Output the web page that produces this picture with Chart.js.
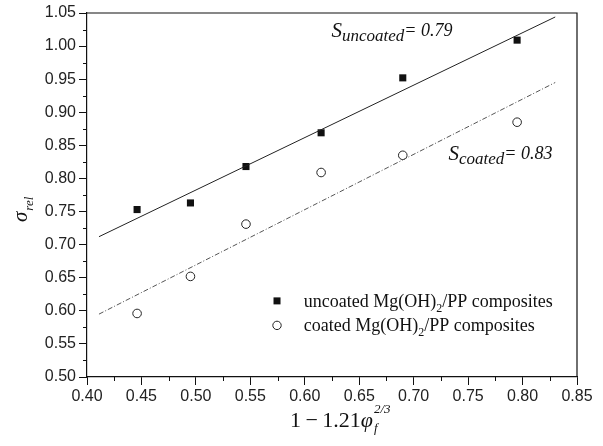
<!DOCTYPE html>
<html><head><meta charset="utf-8">
<script src="https://cdn.jsdelivr.net/npm/chart.js@4/dist/chart.umd.min.js"></script>
<style>html,body{margin:0;padding:0;background:#fff}#wrap{width:603px;height:446px}</style>
</head><body><div id="wrap"><canvas id="c" width="603" height="446"></canvas></div>
<script>
// ---- data ----
const xValues = [0.446, 0.495, 0.546, 0.615, 0.690, 0.795];
const yUncoated = [0.753, 0.763, 0.818, 0.869, 0.952, 1.009];
const yCoated = [0.596, 0.652, 0.731, 0.809, 0.835, 0.885];
const fitX = [0.411, 0.830];
const fitUncoated = [0.712, 1.044];
const fitCoated = [0.595, 0.945];
const xTicks = [0.40, 0.45, 0.50, 0.55, 0.60, 0.65, 0.70, 0.75, 0.80, 0.85];
const yTicks = [0.50, 0.55, 0.60, 0.65, 0.70, 0.75, 0.80, 0.85, 0.90, 0.95, 1.00, 1.05];
const slopeUncoated = '0.79';
const slopeCoated = '0.83';
const legendNames = ['uncoated', 'coated'];

const toPts = (xs, ys) => xs.map((x, i) => ({x: x, y: ys[i]}));

const SERIF = '"Liberation Serif","Times New Roman",serif';
const SANS = '"Liberation Sans",Arial,sans-serif';

function drawRuns(ctx, x, y, runs) {
  ctx.textBaseline = 'alphabetic';
  ctx.textAlign = 'left';
  for (const r of runs) {
    ctx.font = r.font;
    ctx.fillText(r.t, x, y + (r.dy || 0));
    x += ctx.measureText(r.t).width + (r.gap || 0);
  }
  return x;
}

const decor = {
  id: 'decor',
  afterDraw(chart) {
    const ctx = chart.ctx, a = chart.chartArea, xs = chart.scales.x, ys = chart.scales.y;
    ctx.save();
    ctx.strokeStyle = '#111';
    ctx.lineWidth = 1.2;
    // frame top and right
    ctx.beginPath();
    ctx.moveTo(a.left, a.top); ctx.lineTo(a.right, a.top); ctx.lineTo(a.right, a.bottom);
    ctx.stroke();
    // minor ticks
    ctx.lineWidth = 1;
    ctx.beginPath();
    for (let i = 0; i < xTicks.length - 1; i++) {
      const px = Math.round(xs.getPixelForValue((xTicks[i] + xTicks[i + 1]) / 2)) + 0.5;
      ctx.moveTo(px, a.bottom); ctx.lineTo(px, a.bottom + 4);
    }
    for (let i = 0; i < yTicks.length - 1; i++) {
      const py = Math.round(ys.getPixelForValue((yTicks[i] + yTicks[i + 1]) / 2)) + 0.5;
      ctx.moveTo(a.left, py); ctx.lineTo(a.left - 4, py);
    }
    ctx.stroke();

    ctx.fillStyle = '#111';
    // slope annotations
    drawRuns(ctx, xs.getPixelForValue(0.6245), ys.getPixelForValue(1.0135), [
      {t: 'S', font: 'italic 21px ' + SERIF},
      {t: 'uncoated', font: 'italic 17px ' + SERIF, dy: 4},
      {t: '= ' + slopeUncoated, font: 'italic 18px ' + SERIF, dy: -1}
    ]);
    drawRuns(ctx, xs.getPixelForValue(0.732), ys.getPixelForValue(0.8285), [
      {t: 'S', font: 'italic 21px ' + SERIF},
      {t: 'coated', font: 'italic 17px ' + SERIF, dy: 4},
      {t: '= ' + slopeCoated, font: 'italic 18px ' + SERIF, dy: -1}
    ]);

    // legend
    const lx = xs.getPixelForValue(0.5745);
    const tx = xs.getPixelForValue(0.599);
    const rows = [ys.getPixelForValue(0.615), ys.getPixelForValue(0.578)];
    ctx.fillStyle = '#111';
    ctx.fillRect(lx - 3.5, rows[0] - 3.5, 7, 7);
    ctx.beginPath();
    ctx.arc(lx, rows[1], 4.2, 0, Math.PI * 2);
    ctx.lineWidth = 1; ctx.strokeStyle = '#222'; ctx.stroke();
    legendNames.forEach((n, i) => {
      drawRuns(ctx, tx, rows[i] + 6, [
        {t: n + ' Mg(OH)', font: '18px ' + SERIF},
        {t: '2', font: '12px ' + SERIF, dy: 5},
        {t: '/PP composites', font: '18px ' + SERIF}
      ]);
    });

    // y title (rotated)
    ctx.save();
    ctx.translate(27, 222);
    ctx.rotate(-Math.PI / 2);
    drawRuns(ctx, 0, 0, [
      {t: 'σ', font: 'italic 21px ' + SERIF, gap: 1},
      {t: 'rel', font: 'italic 13px ' + SERIF, dy: 6}
    ]);
    ctx.restore();

    // x title
    const xTitleRuns = [
      {t: '1\u2009\u2212\u20091.21', font: '22px ' + SERIF},
      {t: 'φ', font: 'italic 22px ' + SERIF, gap: 0}
    ];
    let x0 = 290;
    let xe = drawRuns(ctx, x0, 427, xTitleRuns);
    drawRuns(ctx, xe + 1, 432, [{t: 'f', font: 'italic 13px ' + SERIF}]);
    drawRuns(ctx, xe + 1, 413, [{t: '2/3', font: 'italic 13px ' + SERIF}]);
    ctx.restore();
  }
};

new Chart(document.getElementById('c'), {
  type: 'scatter',
  data: {
    datasets: [
      {label: 'uncoated fit', data: toPts(fitX, fitUncoated), showLine: true, pointRadius: 0,
       borderColor: '#222', borderWidth: 1, fill: false},
      {label: 'coated fit', data: toPts(fitX, fitCoated), showLine: true, pointRadius: 0,
       borderColor: '#555', borderWidth: 1, borderDash: [5, 2, 1, 2], fill: false},
      {label: 'uncoated', data: toPts(xValues, yUncoated), pointStyle: 'rect', pointRadius: 5,
       backgroundColor: '#111', borderColor: '#111', borderWidth: 0},
      {label: 'coated', data: toPts(xValues, yCoated), pointStyle: 'circle', pointRadius: 4.3,
       backgroundColor: '#fff', borderColor: '#222', borderWidth: 1}
    ]
  },
  options: {
    responsive: false,
    animation: false,
    devicePixelRatio: 1,
    layout: {padding: {top: 13, right: 26, left: 0, bottom: 0}},
    plugins: {legend: {display: false}, tooltip: {enabled: false}},
    scales: {
      x: {
        type: 'linear', min: 0.40, max: 0.85,
        afterBuildTicks: s => { s.ticks = xTicks.map(v => ({value: v})); },
        afterFit: s => { s.height = 69; },
        grid: {drawOnChartArea: false, drawTicks: true, tickLength: 8, color: '#111', tickWidth: 1},
        border: {color: '#111', width: 1.2},
        ticks: {color: '#222', font: {family: SANS, size: 16}, padding: 2, maxRotation: 0,
                callback: v => v.toFixed(2)}
      },
      y: {
        type: 'linear', min: 0.50, max: 1.05,
        afterBuildTicks: s => { s.ticks = yTicks.map(v => ({value: v})); },
        afterFit: s => { s.width = 87; },
        grid: {drawOnChartArea: false, drawTicks: true, tickLength: 8, color: '#111', tickWidth: 1},
        border: {color: '#111', width: 1.2},
        ticks: {color: '#222', font: {family: SANS, size: 16}, padding: 3,
                callback: v => v.toFixed(2)}
      }
    }
  },
  plugins: [decor]
});
</script>
</body></html>
